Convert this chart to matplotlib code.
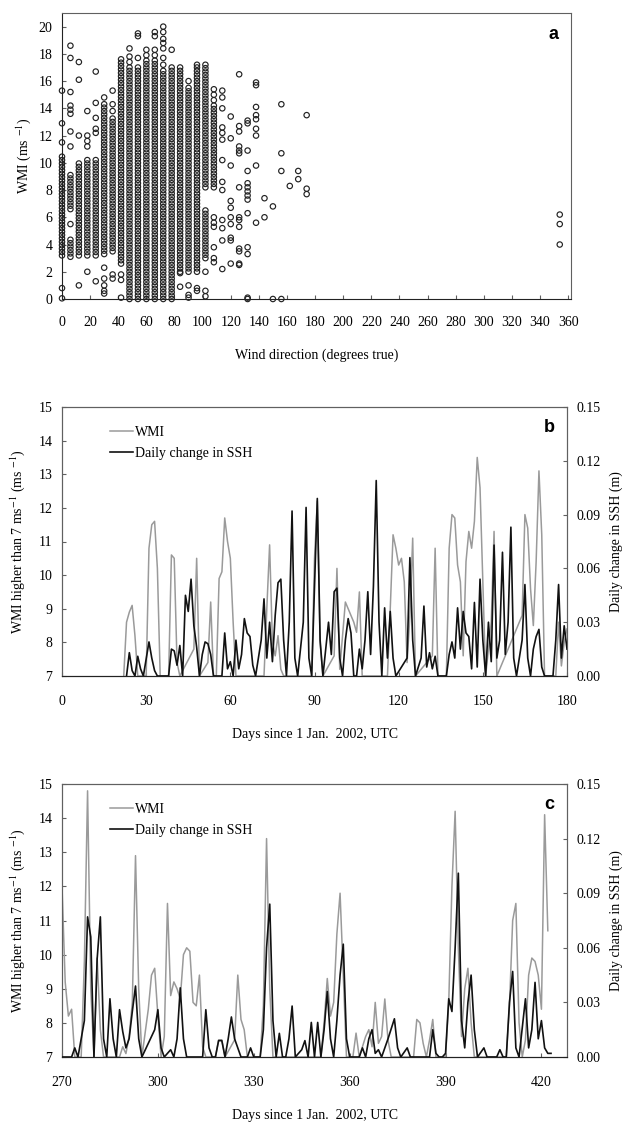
import numpy as np
import matplotlib
matplotlib.use("Agg")
import matplotlib.pyplot as plt
from matplotlib.lines import Line2D

plt.rcParams['font.family'] = ['Liberation Serif', 'DejaVu Serif']
plt.rcParams['mathtext.fontset'] = 'stix'

# ---------------- Panel a data: WMI vs wind direction ----------------
# continuous stacks of points (direction, lowest WMI, highest WMI)
seg_dir = [0, 6, 6, 12, 18, 24, 30, 36, 42, 48, 54, 60, 66, 72, 78, 84, 90, 96, 102, 102, 108]
seg_lo = [3.2, 6.6, 3.1, 3.2, 3.2, 3.2, 3.3, 3.5, 2.6, 0.0, 0.0, 0.0, 0.0, 0.0, 0.0, 2.0, 2.0, 2.0, 8.2, 3.0, 8.2]
seg_hi = [10.6, 9.1, 4.5, 10.1, 10.2, 10.3, 14.3, 13.3, 17.5, 17.0, 17.2, 17.5, 17.6, 16.8, 17.2, 17.0, 15.6, 17.0, 17.0, 6.6, 14.2]
wmi_step = 0.25  # spacing of stacked readings

# isolated points
single_pts = {
    0: [15.3, 12.9, 11.5, 0.8, 0.05],
    6: [18.6, 17.7, 15.2, 14.2, 13.9, 13.6, 12.3, 11.2, 5.5],
    12: [17.4, 16.1, 12.0, 1.0],
    18: [13.8, 12.0, 11.6, 11.2, 2.0],
    24: [16.7, 14.4, 13.3, 12.5, 12.2, 1.3],
    30: [14.8, 2.3, 1.5, 1.0, 0.6, 0.4],
    36: [15.3, 14.3, 13.8, 1.8, 1.5],
    42: [17.6, 1.8, 1.4, 0.1],
    48: [18.4, 17.8, 17.4],
    54: [19.5, 19.3, 17.7],
    60: [18.3, 17.9],
    66: [19.6, 19.3, 18.3, 17.9],
    72: [20.0, 19.6, 19.1, 18.8, 18.4, 17.7, 17.2],
    78: [18.3],
    84: [1.9, 0.9],
    90: [16.0, 1.0, 0.3, 0.1],
    96: [17.2, 0.8, 0.6],
    102: [17.2, 2.0, 0.6, 0.2],
    108: [15.4, 15.0, 14.6, 6.0, 5.6, 5.3, 3.8, 3.0, 2.7],
    114: [15.3, 14.8, 14.0, 12.6, 12.2, 11.7, 10.2, 8.6, 8.0, 5.8, 5.2, 4.3, 2.2],
    120: [13.4, 11.8, 9.8, 7.2, 6.7, 6.0, 5.5, 4.5, 4.3, 2.6],
    126: [16.5, 12.7, 12.3, 11.2, 10.9, 10.7, 8.2, 6.0, 5.8, 5.3, 3.7, 3.5, 2.6, 2.5],
    132: [13.1, 12.9, 10.9, 9.4, 8.5, 8.2, 7.9, 7.6, 7.3, 6.3, 3.8, 3.3, 0.1, 0.0],
    138: [15.9, 15.7, 14.1, 13.5, 13.2, 12.5, 12.0, 9.8, 5.6],
    144: [7.4, 6.0],
    150: [6.8, 0.0],
    156: [14.3, 10.7, 9.4, 0.0],
    162: [8.3],
    168: [9.4, 8.8],
    174: [13.5, 8.1, 7.7],
    354: [6.2, 5.5, 4.0],
}

# ---------------- Panel b data (days 0-180) ----------------
b_wmi_day = [22, 23, 24, 25, 26, 27, 30, 31, 32, 33, 34, 35, 38, 39, 40, 41, 42, 47, 48, 49,
             52, 53, 54, 55, 56, 57, 58, 59, 60, 61, 62, 72, 73, 74, 75, 76, 77, 78, 79,
             89, 90, 91, 92, 93, 97, 98, 99, 100, 101, 102, 103, 104, 105, 106, 107,
             116, 117, 118, 119, 120, 121, 122, 123, 124, 125, 126, 132, 133, 134,
             137, 138, 139, 140, 141, 142, 143, 144, 145, 146, 147, 148, 149, 150, 151,
             153, 154, 155, 164, 165, 166, 167, 168, 169, 170, 171, 172, 176, 177, 178, 179, 180]
b_wmi_val = [7, 8.6, 8.9, 9.1, 8.2, 7, 7, 10.8, 11.5, 11.6, 10.2, 7, 7, 10.6, 10.5, 7.4, 7, 7.8, 10.5, 7,
             7.4, 9.2, 7, 7, 9.9, 10.1, 11.7, 11.0, 10.5, 8.6, 7, 7, 9.0, 10.9, 8.0, 7.6, 8.2, 7.2, 7,
             7, 10.5, 12.2, 8.0, 7, 7.6, 10.2, 7.2, 8.2, 9.2, 9.0, 8.8, 8.6, 8.3, 9.5, 7,
             7, 9.0, 11.2, 10.8, 10.3, 10.5, 9.8, 7.4, 8.8, 11.1, 7, 7.6, 10.8, 7,
             7, 10.8, 11.8, 11.7, 10.3, 9.8, 7.6, 10.4, 11.3, 10.8, 11.6, 13.5, 12.6, 9.8, 7,
             8.6, 11.3, 7, 8.8, 11.8, 11.4, 9.6, 8.5, 10.4, 13.1, 11.2, 7, 7, 8.6, 7.3, 8.0, 8.4]

b_ssh_day = [23, 24, 25, 26, 27, 28, 29, 31, 32, 33, 34, 38, 39, 40, 41, 42, 43, 44, 45, 46, 47, 48, 49,
             50, 51, 52, 53, 54, 57, 58, 59, 60, 61, 62, 63, 64, 65, 66, 67, 68, 69,
             71, 72, 73, 74, 75, 76, 77, 78, 79, 80, 81, 82, 83, 84, 86, 87, 88, 89, 90, 91, 92, 93,
             95, 96, 97, 98, 99, 100, 101, 102, 103, 104, 105, 106, 107, 108, 109, 110, 111, 112, 113, 114,
             115, 116, 117, 118, 119, 123, 124, 125, 126, 128, 129, 130, 131, 132, 133, 134,
             137, 138, 139, 140, 141, 142, 143, 144, 145, 146, 147, 148, 149, 150, 151, 152, 153, 154,
             155, 156, 157, 158, 159, 160, 161, 162, 164, 165, 166, 167, 168, 169, 170, 171, 172,
             175, 176, 177, 178, 179, 180]
b_ssh_val = [0, 0.013, 0.003, 0, 0.011, 0.004, 0, 0.019, 0.010, 0.003, 0, 0, 0.015, 0.014, 0.006, 0.017, 0, 0.045, 0.036, 0.054, 0.028, 0.016, 0,
             0.012, 0.019, 0.018, 0.012, 0, 0, 0.024, 0.004, 0.008, 0, 0.020, 0.004, 0.012, 0.032, 0.024, 0.022, 0.006, 0,
             0.020, 0.043, 0.010, 0.030, 0.008, 0.034, 0.052, 0.054, 0.020, 0, 0.030, 0.092, 0.010, 0, 0.030, 0.094, 0.010, 0, 0.050, 0.099, 0.020, 0,
             0.030, 0.012, 0.047, 0.049, 0.010, 0, 0.020, 0.032, 0.024, 0, 0, 0.015, 0.004, 0.020, 0.047, 0.012, 0.050, 0.109, 0.030, 0,
             0.038, 0.010, 0.036, 0.010, 0, 0.010, 0.066, 0.020, 0, 0.010, 0.039, 0.005, 0.013, 0.004, 0.011, 0,
             0, 0.012, 0.019, 0.010, 0.038, 0.015, 0.036, 0.024, 0.022, 0.004, 0.041, 0.005, 0.054, 0.020, 0, 0.030, 0.008, 0.073,
             0.010, 0.020, 0.069, 0.012, 0.030, 0.083, 0.010, 0, 0.020, 0.051, 0.010, 0, 0.015, 0.022, 0.026, 0.005, 0,
             0, 0.020, 0.051, 0.010, 0.028, 0.015]

# ---------------- Panel c data (days 270-428) ----------------
c_wmi_day = [270, 271, 272, 273, 274, 276, 277, 278, 279, 280, 281, 282, 283,
             288, 289, 290, 291, 292, 293, 294, 295, 297, 298, 299, 300, 301,
             302, 303, 304, 305, 306, 307, 308, 309, 310, 311, 312, 313, 314, 315,
             318, 319, 320, 321, 324, 325, 326, 327, 328, 332, 333, 334, 335, 336,
             351, 352, 353, 354, 355, 356, 357, 358, 359,
             361, 362, 363, 365, 366, 367, 368, 369, 370, 371, 372, 373,
             380, 381, 382, 383, 384, 385, 386, 387,
             390, 391, 392, 393, 394, 395, 396, 397, 398, 399,
             409, 410, 411, 412, 413, 414, 415, 416, 417, 418, 419, 420, 421, 422]
c_wmi_val = [12.0, 9.2, 8.2, 8.4, 7, 7, 9.8, 14.8, 9.0, 7, 9.9, 7.8, 7,
             7, 7.3, 7.1, 7.6, 8.6, 12.9, 9.0, 7, 8.4, 9.4, 9.6, 8.2, 7,
             7.6, 11.5, 8.8, 9.2, 9.0, 8.7, 10.0, 10.2, 10.1, 8.6, 8.5, 9.4, 7.3, 7,
             7, 7.5, 7.5, 7, 7.5, 9.4, 8.1, 7.8, 7, 7, 8.5, 13.4, 9.0, 7,
             7, 8.0, 9.3, 8.2, 8.6, 10.6, 11.8, 9.4, 7,
             7, 7.7, 7, 7.6, 7.8, 7.3, 8.6, 7.4, 7.6, 8.7, 7.5, 7,
             7, 8.1, 8.0, 7.4, 7, 7.5, 8.1, 7,
             7, 8.6, 12.0, 14.2, 10.2, 7.6, 9.0, 9.6, 8.0, 7,
             7, 8.5, 11.0, 11.5, 8.0, 7, 7.5, 9.4, 9.9, 9.8, 9.4, 8.4, 14.1, 10.7]

c_ssh_day = [270, 273, 274, 275, 277, 278, 279, 280, 281, 282, 283, 284, 285, 286, 287, 288, 289, 290,
             291, 292, 293, 294, 295, 299, 300, 301, 302, 304, 305, 306, 307, 308, 309, 314, 315, 316,
             317, 318, 319, 320, 321, 322, 323, 324, 325, 326, 328, 329, 330, 332, 333, 334, 335, 336,
             337, 338, 339, 340, 341, 342, 343, 345, 346, 347, 348, 349, 350, 351, 352, 353, 354, 355,
             356, 357, 358, 359, 360, 363, 364, 365, 366, 367, 368, 369, 370, 372, 374, 375, 376, 378,
             379, 385, 386, 387, 388, 389, 390, 391, 392, 393, 394, 395, 396, 397, 398, 399, 400, 402,
             403, 406, 407, 408, 409, 410, 411, 412, 413, 415, 416, 417, 418, 419, 420, 421, 422, 423]
c_ssh_val = [0, 0, 0.005, 0, 0.020, 0.077, 0.066, 0, 0.054, 0.077, 0.010, 0, 0.032, 0.010, 0, 0.026, 0.014, 0.005,
             0.010, 0.025, 0.039, 0.010, 0, 0.015, 0.026, 0.005, 0, 0.004, 0, 0.010, 0.038, 0.010, 0, 0, 0.026, 0.005,
             0, 0, 0.009, 0.009, 0, 0.010, 0.022, 0.010, 0.005, 0, 0, 0.005, 0, 0, 0.015, 0.060, 0.084, 0.020,
             0, 0.013, 0, 0, 0.010, 0.028, 0, 0.004, 0.009, 0, 0.019, 0, 0.019, 0, 0.015, 0.036, 0.010, 0,
             0.020, 0.045, 0.062, 0.010, 0, 0, 0.005, 0, 0.010, 0.015, 0.002, 0.004, 0, 0.010, 0.021, 0.005, 0, 0.005,
             0, 0, 0.015, 0.002, 0, 0, 0.002, 0.032, 0.025, 0.060, 0.101, 0.020, 0.005, 0.030, 0.045, 0.015, 0, 0.005,
             0, 0, 0.004, 0, 0, 0.030, 0.047, 0.005, 0, 0.032, 0.005, 0.015, 0.041, 0.010, 0.020, 0.005, 0.002, 0.002]

b_ticks = [0, 30, 60, 90, 120, 150, 180]
c_ticks = [270, 300, 330, 360, 390, 420]
wmi_ticks = [7, 8, 9, 10, 11, 12, 13, 14, 15]
ssh_ticks = [0.00, 0.03, 0.06, 0.09, 0.12, 0.15]

GRAY = '#9a9a9a'
SPINE = '#606060'
FS = 10

fig = plt.figure(figsize=(6.35, 11.24), dpi=100)

# ---------------- Panel a ----------------
ax = fig.add_axes([62 / 635, 1 - 299 / 1124, 509 / 635, 286 / 1124])
xs, ys = [], []
for d, lo, hi in zip(seg_dir, seg_lo, seg_hi):
    v = np.arange(lo, hi + 1e-9, wmi_step)
    xs.extend([d] * len(v))
    ys.extend(v)
for d, vals in single_pts.items():
    xs.extend([d] * len(vals))
    ys.extend(vals)
ax.scatter(xs, ys, s=15, facecolors='none', edgecolors='#222222', linewidths=0.85, clip_on=False, zorder=3)
ax.set_xlim(0, 362)
ax.set_ylim(0, 21)
ax.set_xticks(range(0, 361, 20))
ax.set_yticks(range(0, 21, 2))
ax.set_xlabel('Wind direction (degrees true)', fontsize=FS, labelpad=14)
ax.set_ylabel('WMI (ms $^{-1}$)', fontsize=FS, labelpad=4)
ax.text(0.975, 0.955, 'a', transform=ax.transAxes, ha='right', va='top', fontsize=13,
        fontweight='bold', family='Liberation Sans')
ax.tick_params(direction='in', length=3, labelsize=FS, color=SPINE)
ax.tick_params(axis='x', pad=12)
ax.tick_params(axis='y', pad=7)
for s in ax.spines.values():
    s.set_color(SPINE)
ax.spines['bottom'].set_color('#222222')
ax.spines['left'].set_color('#222222')


def ts_panel(rect, wd, wv, sd, sv, xlim, xticks, letter):
    axl = fig.add_axes(rect)
    axl.plot(wd, wv, color=GRAY, lw=1.1, zorder=2)
    axl.set_xlim(*xlim)
    axl.set_ylim(7, 15)
    axl.set_xticks(xticks)
    axl.set_yticks(wmi_ticks)
    axl.tick_params(direction='in', length=3, labelsize=FS, color=SPINE)
    axl.tick_params(axis='x', pad=14)
    axl.tick_params(axis='y', pad=7)
    axl.set_ylabel('WMI higher than 7 ms$^{-1}$ (ms $^{-1}$)', fontsize=FS, labelpad=8)
    axl.set_xlabel('Days since 1 Jan.  2002, UTC', fontsize=FS, labelpad=14)
    axr = axl.twinx()
    axr.plot(sd, sv, color='#111111', lw=1.2, zorder=3)
    axr.set_ylim(0, 0.15)
    axr.set_yticks(ssh_ticks)
    axr.set_yticklabels([f'{t:.2f}' for t in ssh_ticks])
    axr.tick_params(direction='in', length=3, labelsize=FS, color=SPINE, pad=7)
    axr.set_ylabel('Daily change in SSH (m)', fontsize=FS, labelpad=6)
    for a in (axl, axr):
        for s in a.spines.values():
            s.set_color(SPINE)
        a.spines['bottom'].set_color('#222222')
    handles = [Line2D([], [], color=GRAY, lw=1.1), Line2D([], [], color='#111111', lw=1.2)]
    axr.legend(handles, ['WMI', 'Daily change in SSH'], loc='upper left', bbox_to_anchor=(0.085, 0.95),
               frameon=False, fontsize=FS, handlelength=1.6, handletextpad=0.2, labelspacing=0.55,
               borderaxespad=0)
    axr.text(0.975, 0.955, letter, transform=axr.transAxes, ha='right', va='top', fontsize=13,
             fontweight='bold', family='Liberation Sans')


ts_panel([62 / 635, 1 - 676 / 1124, 505 / 635, 269 / 1124], b_wmi_day, b_wmi_val, b_ssh_day, b_ssh_val,
         (0, 180), b_ticks, 'b')
ts_panel([62 / 635, 1 - 1057 / 1124, 505 / 635, 273 / 1124], c_wmi_day, c_wmi_val, c_ssh_day, c_ssh_val,
         (270, 428), c_ticks, 'c')

fig.savefig('out.png', dpi=100, facecolor='white')
